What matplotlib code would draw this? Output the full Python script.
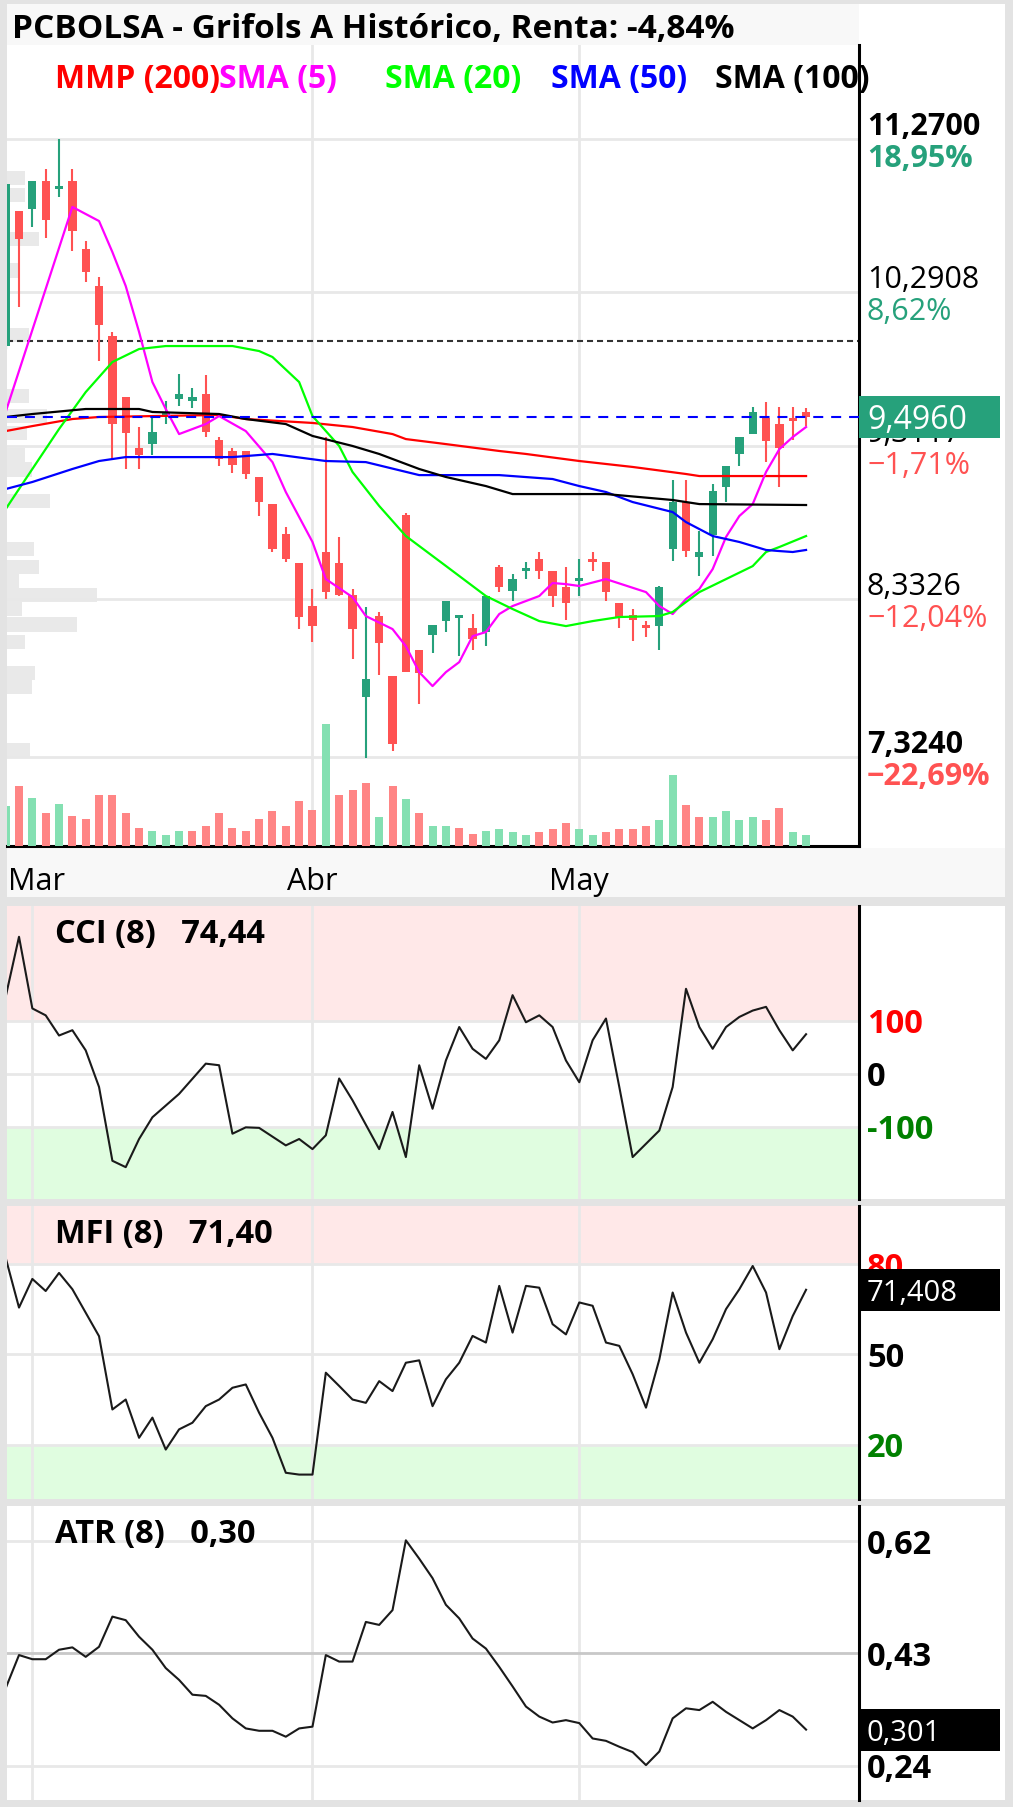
import math
import matplotlib
matplotlib.use("Agg")
import matplotlib.pyplot as plt
from matplotlib.patches import Rectangle
from matplotlib import font_manager

# pick a sans family that really ships a bold face
_bold_ok = None
for fam in ["Open Sans", "Noto Sans", "Lato", "Roboto"]:
    try:
        f = font_manager.findfont(font_manager.FontProperties(family=fam, weight="bold"),
                                  fallback_to_default=False)
        if "bold" in f.lower():
            _bold_ok = fam
            break
    except Exception:
        pass
FAMILY = _bold_ok or "DejaVu Sans"
plt.rcParams["font.family"] = [FAMILY, "DejaVu Sans"]

W, H, DPI = 1013, 1808, 100

# ---- data -------------------------------------------------------------------
title = "PCBOLSA - Grifols A Histórico, Renta: -4,84%"

# daily candles, index 0 = first (partly hidden) session
opens = [9.95, 10.81, 10.82, 11.00, 10.95, 11.00, 10.57, 10.33, 10.01, 9.62,
         9.30, 9.32, 9.50, 9.61, 9.60, 9.64, 9.35, 9.28, 9.28, 9.11,
         8.94, 8.75, 8.56, 8.29, 8.63, 8.56, 8.36, 7.71, 8.225, 7.84,
         8.87, 8.01, 8.10, 8.19, 8.21, 8.15, 8.12, 8.54, 8.385, 8.51,
         8.59, 8.51, 8.41, 8.45, 8.59, 8.57, 8.31, 8.23, 8.17, 8.16,
         8.65, 8.95, 8.60, 8.74, 9.05, 9.26, 9.385, 9.49, 9.45, 9.48,
         9.53]
highs = [10.98, 10.81, 11.00, 11.08, 11.27, 11.08, 10.62, 10.39, 10.04, 9.62,
         9.43, 9.49, 9.60, 9.77, 9.68, 9.76, 9.37, 9.30, 9.28, 9.11,
         8.94, 8.79, 8.56, 8.40, 9.37, 8.73, 8.40, 8.28, 8.25, 7.84,
         8.88, 8.01, 8.17, 8.32, 8.225, 8.24, 8.35, 8.55, 8.49, 8.57,
         8.63, 8.51, 8.54, 8.59, 8.63, 8.57, 8.31, 8.27, 8.19, 8.415,
         9.09, 9.09, 8.77, 9.07, 9.18, 9.37, 9.56, 9.59, 9.56, 9.56,
         9.55]
lows = [9.93, 10.20, 10.71, 10.64, 10.90, 10.555, 10.36, 9.85, 9.23, 9.16,
        9.16, 9.25, 9.45, 9.565, 9.55, 9.37, 9.18, 9.14, 9.10, 8.86,
        8.63, 8.57, 8.14, 8.06, 8.33, 8.35, 7.95, 7.32, 7.85, 7.36,
        7.87, 7.66, 7.99, 8.12, 7.97, 8.01, 8.03, 8.38, 8.32, 8.46,
        8.46, 8.28, 8.20, 8.35, 8.51, 8.32, 8.15, 8.065, 8.09, 8.01,
        8.575, 8.60, 8.48, 8.61, 8.95, 9.18, 9.385, 9.21, 9.05, 9.35,
        9.44]
closes = [10.98, 10.63, 11.00, 10.75, 10.97, 10.68, 10.42, 10.08, 9.45, 9.39,
          9.25, 9.40, 9.52, 9.64, 9.62, 9.40, 9.23, 9.19, 9.13, 8.95,
          8.65, 8.59, 8.22, 8.16, 8.38, 8.36, 8.14, 7.82, 8.05, 7.41,
          7.87, 7.86, 8.17, 8.32, 8.23, 8.08, 8.35, 8.41, 8.46, 8.52,
          8.51, 8.35, 8.31, 8.47, 8.57, 8.38, 8.21, 8.20, 8.15, 8.41,
          8.95, 8.64, 8.63, 9.02, 9.18, 9.37, 9.53, 9.34, 9.30, 9.47,
          9.496]
# volume, thousands of shares
volumes = [400, 600, 480, 330, 420, 300, 270, 510, 510, 330,
           180, 150, 110, 150, 150, 200, 330, 180, 150, 270,
           350, 200, 450, 360, 1220, 510, 560, 630, 290, 600,
           470, 330, 200, 200, 180, 120, 150, 170, 140, 110,
           140, 170, 230, 170, 110, 140, 170, 170, 200, 260,
           710, 410, 290, 290, 350, 260, 290, 260, 380, 140,
           110]

start_price = 9.979
last_price = 9.496

price_levels = [11.27, 10.2908, 9.3117, 8.3326, 7.324]
price_pcts = [18.95, 8.62, -1.71, -12.04, -22.69]

month_labels = ["Mar", "Abr", "May"]
month_pos = [2, 23, 43]

# volume profile (price level, relative volume)
profile_price = [11.02, 10.91, 10.63, 10.43, 10.02, 9.63, 9.50, 9.39, 9.25, 9.16,
                 8.96, 8.65, 8.54, 8.45, 8.36, 8.27, 8.17, 8.06, 7.86, 7.77, 7.37]
profile_vol = [18, 18, 32, 13, 22, 22, 40, 20, 18, 25,
               43, 27, 32, 12, 90, 15, 70, 18, 28, 25, 23]

# moving averages (session index, value)
mmp200_idx = [0, 2, 5, 7, 16, 18, 23, 26, 29, 30, 33, 37, 39, 43, 47, 51, 52, 60]
mmp200_val = [9.405, 9.437, 9.482, 9.495, 9.508, 9.482, 9.457, 9.431, 9.386, 9.354,
              9.322, 9.278, 9.259, 9.214, 9.176, 9.131, 9.118, 9.118]
sma5_idx = [0, 5, 7, 8, 9, 10, 11, 12, 13, 15, 16, 18, 20, 21, 23, 24, 26, 27, 29, 30,
            31, 32, 33, 34, 35, 36, 37, 38, 40, 41, 42, 43, 45, 48, 49, 50, 51, 52, 53, 54,
            55, 56, 57, 58, 59, 60]
sma5_val = [9.527, 10.836, 10.746, 10.548, 10.331, 10.038, 9.718, 9.546, 9.386, 9.450,
            9.501, 9.405, 9.207, 9.016, 8.697, 8.460, 8.345, 8.224, 8.141, 8.032,
            7.866, 7.777, 7.866, 7.930, 8.096, 8.122, 8.237, 8.288, 8.352, 8.435,
            8.428, 8.416, 8.460, 8.377, 8.288, 8.237, 8.333, 8.397, 8.524, 8.729,
            8.863, 8.939, 9.144, 9.290, 9.367, 9.431]
sma20_idx = [0, 2, 4, 6, 8, 10, 12, 17, 19, 20, 22, 23, 25, 26, 28, 30, 33, 36, 38, 40,
             42, 44, 46, 49, 50, 52, 54, 56, 57, 58, 60]
sma20_val = [8.907, 9.163, 9.418, 9.654, 9.846, 9.929, 9.948, 9.948, 9.916, 9.878,
             9.718, 9.501, 9.310, 9.144, 8.927, 8.735, 8.544, 8.352, 8.269, 8.192,
             8.160, 8.192, 8.218, 8.224, 8.250, 8.377, 8.460, 8.543, 8.633, 8.665, 8.735]
sma50_idx = [0, 2, 5, 7, 9, 17, 20, 24, 27, 31, 37, 41, 43, 45, 47, 50, 51, 53, 55, 57,
             58, 59, 60]
sma50_val = [9.035, 9.080, 9.163, 9.214, 9.239, 9.239, 9.259, 9.214, 9.207, 9.124,
             9.124, 9.099, 9.054, 9.016, 8.952, 8.888, 8.824, 8.735, 8.697, 8.646,
             8.639, 8.633, 8.646]
sma100_idx = [0, 2, 6, 10, 11, 16, 18, 21, 23, 26, 28, 31, 33, 36, 38, 45, 50, 52, 60]
sma100_val = [9.495, 9.514, 9.546, 9.546, 9.527, 9.514, 9.482, 9.450, 9.374, 9.310,
              9.259, 9.163, 9.112, 9.054, 9.003, 9.003, 8.965, 8.939, 8.933]

ma_names = ["MMP (200)", "SMA (5)", "SMA (20)", "SMA (50)", "SMA (100)"]

# indicators
cci_idx = [0, 1, 2, 3, 4, 5, 6, 7, 8, 9, 10, 11, 13, 15, 16, 17, 18, 19, 21, 22,
           23, 24, 25, 26, 28, 29, 30, 31, 32, 33, 34, 35, 36, 37, 38, 39, 40, 41, 42, 43,
           44, 45, 46, 47, 48, 49, 50, 51, 52, 53, 54, 55, 56, 57, 58, 59, 60]
cci_val = [145, 258, 123, 110, 72, 82, 44, -25, -164, -176, -123, -82, -38, 19, 16, -113,
           -101, -102, -135, -123, -142, -116, -9, -50, -142, -72, -157, 16, -66, 25,
           88, 47, 28, 63, 148, 97, 110, 88, 25, -16, 63, 104, -25, -157, -132, -107,
           -25, 160, 88, 47, 88, 107, 119, 126, 82, 44, 74.44]
mfi_val = [82, 65.5, 75, 71, 77, 71.6, 63.8, 56, 31.7, 35,
           22.3, 29, 18.4, 25.1, 27.3, 32.8, 35, 38.9, 40, 30.6,
           22.3, 10.7, 10.1, 10.1, 43.9, 39.5, 35, 33.9, 41.1, 37.8,
           47.2, 48, 32.8, 41.7, 47.2, 56.1, 53.9, 72.7, 57.2, 72.7,
           72.1, 60, 56.6, 67.2, 66.1, 53.9, 52.8, 43.4, 32.3, 48.3,
           70.5, 57.2, 47.2, 55, 65, 71.6, 79.3, 70.5, 51.7, 62.7,
           71.408]
atr_val = [0.371, 0.427, 0.420, 0.420, 0.436, 0.440, 0.424, 0.441, 0.492, 0.486,
           0.458, 0.436, 0.405, 0.385, 0.360, 0.358, 0.343, 0.320, 0.303, 0.299,
           0.299, 0.289, 0.303, 0.306, 0.427, 0.416, 0.416, 0.483, 0.478, 0.503,
           0.621, 0.590, 0.557, 0.512, 0.489, 0.455, 0.438, 0.407, 0.374, 0.340,
           0.323, 0.313, 0.317, 0.312, 0.286, 0.282, 0.272, 0.263, 0.241, 0.264,
           0.320, 0.337, 0.334, 0.348, 0.331, 0.317, 0.303, 0.317, 0.334, 0.323,
           0.301]
cci_levels = [100, 0, -100]
mfi_levels = [80, 50, 20]
atr_levels = [0.62, 0.43, 0.24]

# ---- style / layout ---------------------------------------------------------
GREEN = "#26a17b"
RED = "#ff5252"
VOL_GREEN = "#84e0b2"
VOL_RED = "#ff8585"
GRID = "#e8e8e8"
PINK = "#ffe8e8"
MINT = "#e0fde0"
LEFT, RIGHT = 7, 859          # plot area in pixels
LABEL_X = 867                 # right-hand labels
X_LEFT = 0.1
X_RIGHT = X_LEFT + (RIGHT - LEFT) / 13.34
LAB_AX = (LABEL_X - LEFT) / (RIGHT - LEFT)
n = len(closes)
idx = list(range(n))


def comma(v, d):
    return f"{v:.{d}f}".replace(".", ",")


def frect(x0, y0, x1, y1):
    return [x0 / W, 1 - y1 / H, (x1 - x0) / W, (y1 - y0) / H]


fig = plt.figure(figsize=(W / DPI, H / DPI), dpi=DPI, facecolor="#e3e3e3")


def bg(x0, y0, x1, y1, color, z=-10):
    fig.add_artist(Rectangle((x0 / W, 1 - y1 / H), (x1 - x0) / W, (y1 - y0) / H,
                             transform=fig.transFigure, facecolor=color,
                             edgecolor="none", zorder=z))


def ftext(x, y, s, **kw):
    return fig.text(x / W, 1 - y / H, s, **kw)


def right_label(ax, y, s, size, **kw):
    cap = size / 72 * DPI * 0.714
    ax.annotate(s, xy=(LAB_AX, y), xycoords=ax.get_yaxis_transform(),
                xytext=(0, -cap / 2 * 72 / DPI), textcoords="offset points",
                va="baseline", ha="left", fontsize=size, annotation_clip=False, **kw)


def value_box(ax, v, s, color, size):
    y = H - ax.transData.transform((0, v))[1]
    bg(RIGHT, y - 21, 1000, y + 21, color, z=5)
    cap = size / 72 * DPI * 0.714
    t = ftext(LABEL_X, y + cap / 2, s, color="white", fontsize=size, va="baseline")
    t.set_zorder(6)


bg(7, 5, 1005, 1801, "white")
bg(7, 5, RIGHT, 46, "#f8f8f8")
bg(7, 849, 1005, 898, "#f8f8f8")
for y0, y1 in [(898, 907), (1200, 1207), (1500, 1507)]:
    bg(7, y0, 1005, y1, "#e3e3e3")

ftext(12, 38, title, fontsize=24, weight="bold", va="baseline")

# ---- price panel ------------------------------------------------------------
ax = fig.add_axes(frect(LEFT, 46, RIGHT, 847))
ax.set_xlim(X_LEFT, X_RIGHT)
ax.set_ylim(6.756, 11.870)
ax.patch.set_visible(False)
ax.set_xticks([])
ax.set_yticks([])
for s in ["top", "left"]:
    ax.spines[s].set_visible(False)
for s in ["right", "bottom"]:
    ax.spines[s].set_linewidth(2.2)

axp = ax.twiny()
axp.set_zorder(ax.get_zorder() - 1)
axp.set_xlim(0, RIGHT - LEFT)
axp.barh(profile_price, profile_vol, height=0.09, color="#e9e9e9")
axp.axis("off")

for p in price_levels:
    ax.axhline(p, color=GRID, lw=2, zorder=0)
# the first month line is not drawn in the price panel of the original
for m in month_pos[1:]:
    ax.axvline(m, color=GRID, lw=2, zorder=0)

ax.axhline(start_price, color="#333333", lw=1.5, dashes=(2.9, 1.9), zorder=1)

for i in idx:
    col = GREEN if closes[i] >= opens[i] else RED
    ax.vlines(i, lows[i], highs[i], color=col, lw=1.5, zorder=2)
    body = max(abs(closes[i] - opens[i]), 0.02)
    ax.bar(i, body, bottom=min(opens[i], closes[i]), width=0.62, color=col, zorder=2)

ma_series = [(mmp200_idx, mmp200_val, "#ff0000"), (sma5_idx, sma5_val, "#ff00ff"),
             (sma20_idx, sma20_val, "#00ff00"), (sma50_idx, sma50_val, "#0000ff"),
             (sma100_idx, sma100_val, "#000000")]
for xs, ys, col in ma_series:
    ax.plot(xs, ys, color=col, lw=1.6, zorder=3, solid_joinstyle="round")

ax.axhline(last_price, color="#0000ff", lw=1.5, dashes=(4.8, 3.8), zorder=3)

for (xs, ys, col), name, x in zip(ma_series, ma_names, [55, 219, 385, 551, 715]):
    ftext(x, 88, name, color=col, fontsize=23, weight="bold", va="baseline")

hi, lo = max(price_levels), min(price_levels)
for p, pct in zip(price_levels, price_pcts):
    w = "bold" if p in (hi, lo) else "normal"
    ax.annotate(comma(p, 4), xy=(LAB_AX, p), xycoords=ax.get_yaxis_transform(),
                xytext=(0, 3.6), textcoords="offset points", va="baseline",
                fontsize=22, weight=w, annotation_clip=False)
    sign = "\u2212" if pct < 0 else ""
    ax.annotate(sign + comma(abs(pct), 2) + "%", xy=(LAB_AX, p),
                xycoords=ax.get_yaxis_transform(), xytext=(0, -19.5),
                textcoords="offset points", va="baseline", fontsize=22, weight=w,
                color=GREEN if pct > 0 else RED, annotation_clip=False)

value_box(ax, last_price, comma(last_price, 4), GREEN, 23)

# volume bars
axv = fig.add_axes(frect(LEFT, 647, RIGHT, 847))
axv.set_zorder(0.5)
axv.set_xlim(X_LEFT, X_RIGHT)
axv.set_ylim(0, 2000)
axv.axis("off")
vcols = [VOL_GREEN if closes[i] >= (closes[i - 1] if i else opens[i]) else VOL_RED
         for i in idx]
axv.bar(idx, volumes, width=0.6, color=vcols)

# month labels
for lab, m in zip(month_labels, month_pos):
    xd = ax.transData.transform((m, 0))[0]
    if xd - 28 < LEFT:
        ftext(8, 890, lab, fontsize=22, va="baseline", ha="left")
    else:
        ftext(xd, 890, lab, fontsize=22, va="baseline", ha="center")


# ---- indicator panels -------------------------------------------------------
def indicator_axes(y0, y1, ylim):
    a = fig.add_axes(frect(LEFT, y0, RIGHT, y1))
    a.set_xlim(X_LEFT, X_RIGHT)
    a.set_ylim(*ylim)
    a.patch.set_visible(False)
    a.set_xticks([])
    a.set_yticks([])
    for s in ["top", "left", "bottom"]:
        a.spines[s].set_visible(False)
    a.spines["right"].set_linewidth(2.2)
    for m in month_pos:
        a.axvline(m, color=GRID, lw=2, zorder=0)
    return a


level_colors = ["#ff0000", "black", "#008000"]
HEAD = 23.5
LEV = 23.5

ac = indicator_axes(907, 1200, (-236, 316))
ac.axhspan(cci_levels[0], 316, color=PINK, zorder=-1, lw=0)
ac.axhspan(-236, cci_levels[2], color=MINT, zorder=-1, lw=0)
for lv, col in zip(cci_levels, level_colors):
    ac.axhline(lv, color=GRID, lw=2, zorder=0)
    right_label(ac, lv, str(lv), LEV, weight="bold", color=col)
ac.plot(cci_idx, cci_val, color="#1a1a1a", lw=1.5, zorder=2)
ftext(55, 943, "CCI (8)   " + comma(cci_val[-1], 2), fontsize=HEAD, weight="bold",
      va="baseline")

am = indicator_axes(1207, 1500, (2.0, 99.2))
am.axhspan(mfi_levels[0], 99.2, color=PINK, zorder=-1, lw=0)
am.axhspan(2.0, mfi_levels[2], color=MINT, zorder=-1, lw=0)
for lv, col in zip(mfi_levels, level_colors):
    am.axhline(lv, color=GRID, lw=2, zorder=0)
    right_label(am, lv, str(lv), LEV, weight="bold", color=col)
am.plot(idx, mfi_val, color="#1a1a1a", lw=1.5, zorder=2)
ftext(55, 1243, "MFI (8)   " + comma(math.floor(mfi_val[-1] * 100) / 100, 2),
      fontsize=HEAD, weight="bold", va="baseline")
value_box(am, mfi_val[-1], comma(mfi_val[-1], 3), "black", 21)

aa = indicator_axes(1507, 1801, (0.182, 0.679))
for lv in atr_levels:
    aa.axhline(lv, color="#c8c8c8" if lv == atr_levels[1] else GRID, lw=2, zorder=0)
    right_label(aa, lv, comma(lv, 2), LEV, weight="bold")
aa.plot(idx, atr_val, color="#1a1a1a", lw=1.5, zorder=2)
ftext(55, 1543, "ATR (8)   " + comma(math.floor(atr_val[-1] * 100) / 100, 2),
      fontsize=HEAD, weight="bold", va="baseline")
value_box(aa, atr_val[-1], comma(atr_val[-1], 3), "black", 21)

fig.savefig("out.png", dpi=DPI, facecolor=fig.get_facecolor())
